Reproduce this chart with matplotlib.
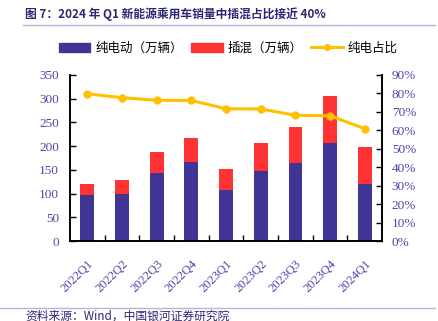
import matplotlib.pyplot as plt
import numpy as np
from matplotlib.lines import Line2D
from matplotlib.patches import Patch
from matplotlib.ticker import FuncFormatter

quarters = ["2022Q1", "2022Q2", "2022Q3", "2022Q4", "2023Q1",
            "2023Q2", "2023Q3", "2023Q4", "2024Q1"]
bev = [96, 99, 143, 166, 108, 147, 164, 207, 120]
phev = [24, 29, 45, 52, 43, 59, 77, 99, 77]
bev_share = [79.7, 77.6, 76.2, 76.1, 71.6, 71.5, 68.1, 67.8, 60.8]

cjk = ["Noto Sans CJK SC", "DejaVu Sans"]
tick_color = "#4f44a8"
blue = "#403594"
red = "#ff3333"
gold = "#ffc000"

fig = plt.figure(figsize=(4.39, 3.21), dpi=100)
ax = fig.add_axes([0.1595, 0.249, 0.711, 0.518])
ax2 = ax.twinx()

x = np.arange(len(quarters))
w = 0.4
ax.bar(x, bev, width=w, color=blue, zorder=2)
ax.bar(x, phev, width=w, bottom=bev, color=red, zorder=2)
ax2.plot(x, bev_share, color=gold, lw=2.2, marker="o", ms=5, zorder=3)

ax.set_xlim(-0.5, len(quarters) - 0.5)
ax.set_ylim(0, 350)
ax.set_yticks(np.arange(0, 351, 50))
ax2.set_ylim(0, 90)
ax2.set_yticks(np.arange(0, 91, 10))
ax2.yaxis.set_major_formatter(FuncFormatter(lambda v, p: f"{v:.0f}%"))

# x ticks sit between the bars, labels under bar centres
ax.set_xticks(x)
ax.set_xticklabels(quarters, rotation=45, ha="right", rotation_mode="anchor",
                   fontsize=9, family="Liberation Serif", color=tick_color)
ax.set_xticks(np.arange(0.5, len(quarters) - 1, 1), minor=True)
ax.tick_params(axis="x", which="major", length=0, pad=12)
ax.tick_params(axis="x", which="minor", direction="in", length=4, width=1)

for a in (ax, ax2):
    a.spines["top"].set_visible(False)
    for s in ("left", "right", "bottom"):
        a.spines[s].set_linewidth(1.2)
ax.tick_params(axis="y", direction="in", length=4, width=1, labelsize=9.5,
               labelcolor=tick_color, pad=8)
ax2.tick_params(axis="y", direction="in", length=4, width=1, labelsize=9.5,
                labelcolor=tick_color, pad=7)
for lab in ax.get_yticklabels() + ax2.get_yticklabels():
    lab.set_family("Liberation Serif")

handles = [Patch(color=blue), Patch(color=red),
           Line2D([], [], color=gold, lw=2.2, marker="o", ms=4)]
fig.legend(handles, ["纯电动（万辆）", "插混（万辆）", "纯电占比"],
           loc="center", bbox_to_anchor=(0.52, 0.85), ncol=3, frameon=False,
           prop={"family": cjk, "size": 9}, handlelength=2.5,
           handleheight=0.7, columnspacing=0.7, handletextpad=0.4)

fig.text(0.057, 0.955, "图 7：2024 年 Q1 新能源乘用车销量中插混占比接近 40%",
         family=cjk, fontsize=8.5, fontweight="bold", color="#2b2773",
         va="center")
fig.add_artist(Line2D([0.053, 0.992], [0.922, 0.922], color="#b8b3d8", lw=1))
fig.add_artist(Line2D([0.0, 0.992], [0.041, 0.041], color="#b8b3d8", lw=1))
fig.text(0.057, 0.016, "资料来源：Wind，中国银河证券研究院", family=cjk,
         fontsize=8.5, style="italic", color="#2b2773", va="center")

fig.savefig("out.png", dpi=100)
